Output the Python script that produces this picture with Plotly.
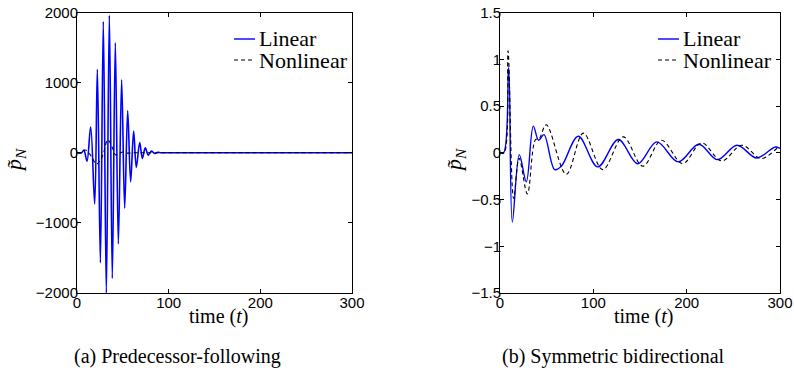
import plotly.graph_objects as go

# ---------------- data (extrema) ----------------
# (a) Predecessor-following
a_lin_t = [0, 5, 7.5, 10.9, 14.9, 19.3, 22.2, 25.5, 28.7, 32.0, 35.3, 38.5, 41.8, 45.1,
           48.7, 52.0, 55.3, 58.5, 61.8, 64.7, 68.4, 71.3, 74.5, 77.8, 81.1, 84.7, 88, 92, 100, 300]
a_lin_v = [0, 0, 40, -120, 370, -730, 1190, -1570, 1870, -2000, 1960, -1790, 1570, -1300,
           1040, -790, 600, -415, 310, -210, 145, -80, 70, -35, 25, -10, 5, 0, 0, 0]
a_non_t = [0, 5, 9, 14, 21.5, 28, 33.5, 39, 42, 46, 50, 55, 60, 70, 300]
a_non_v = [0, 0, 40, -20, -160, -40, 185, 60, -30, -10, 10, -5, 0, 0, 0]

# (b) Symmetric bidirectional
b_lin_t = [0, 4, 9.3, 13.2, 20.7, 28.2, 35.7, 41.4, 47.1, 58.6, 65.7, 83.9, 104.7, 126.8,
           147.5, 168, 191, 213, 233, 254, 275, 295, 300]
b_lin_v = [0, 0, 0.91, -0.74, -0.02, -0.31, 0.285, 0.133, 0.194, -0.18, -0.145, 0.176, -0.151,
           0.141, -0.117, 0.116, -0.098, 0.091, -0.074, 0.08, -0.056, 0.062, 0.045]
b_non_t = [0, 4.5, 8.6, 14.6, 20.5, 29.3, 38, 42, 49.6, 71, 89.3, 110, 132, 153, 173,
           195.7, 216, 237.5, 259, 280, 299, 300]
b_non_v = [0, 0, 1.09, -0.49, -0.06, -0.44, 0.14, 0.15, 0.30, -0.23, 0.21, -0.18, 0.17, -0.144,
           0.133, -0.115, 0.105, -0.087, 0.08, -0.062, 0.06, 0.058]

x_ticks = [0, 100, 200, 300]
x_tick_text = ["0", "100", "200", "300"]
a_y_ticks = [-2000, -1000, 0, 1000, 2000]
a_y_tick_text = ["\u22122000", "\u22121000", "0", "1000", "2000"]
b_y_ticks = [-1.5, -1, -0.5, 0, 0.5, 1, 1.5]
b_y_tick_text = ["\u22121.5", "\u22121", "\u22120.5", "0", "0.5", "1", "1.5"]

series_names = ["Linear", "Nonlinear"]
captions = ["(a) Predecessor-following", "(b) Symmetric bidirectional"]
x_title = "time (<i>t</i>)"
y_title = "<i>p\u0303</i><sub><i>N</i></sub>"

# ---------------- layout constants ----------------
W, H = 794, 373
SERIF = "Liberation Serif, Times New Roman, serif"
SANS = "Liberation Sans, Arial, sans-serif"
BLUE = "#0000ff"
DASH = "4px,3px"

def px(x):
    return x / W

def py(y):
    return (H - y) / H

fig = go.Figure()

fig.add_trace(go.Scatter(x=a_lin_t, y=a_lin_v, mode="lines", name=series_names[0],
                         line=dict(color=BLUE, width=1.6, shape="spline", smoothing=1),
                         xaxis="x", yaxis="y", showlegend=False))
fig.add_trace(go.Scatter(x=a_non_t, y=a_non_v, mode="lines", name=series_names[1],
                         line=dict(color="black", width=1.1, dash=DASH, shape="spline", smoothing=1),
                         xaxis="x", yaxis="y", showlegend=False))
fig.add_trace(go.Scatter(x=b_lin_t, y=b_lin_v, mode="lines", name=series_names[0],
                         line=dict(color=BLUE, width=1.4, shape="spline", smoothing=1),
                         xaxis="x2", yaxis="y2", showlegend=False))
fig.add_trace(go.Scatter(x=b_non_t, y=b_non_v, mode="lines", name=series_names[1],
                         line=dict(color="black", width=1.1, dash=DASH, shape="spline", smoothing=1),
                         xaxis="x2", yaxis="y2", showlegend=False))

axis_common = dict(showgrid=False, zeroline=False, showline=True, linecolor="black", linewidth=1,
                   mirror="ticks", ticks="inside", ticklen=4, tickcolor="black", tickwidth=1,
                   tickfont=dict(family=SANS, size=15, color="black"))

ydom = [py(293), py(12.5)]
fig.update_layout(
    width=W, height=H,
    margin=dict(l=0, r=0, t=0, b=0, autoexpand=False),
    paper_bgcolor="white", plot_bgcolor="white",
    showlegend=False,
    xaxis=dict(domain=[px(77), px(352)], range=[0, 300], tickvals=x_ticks, ticktext=x_tick_text,
               anchor="y", ticklabelstandoff=-4, **axis_common),
    yaxis=dict(domain=ydom, range=[-2000, 2000], tickvals=a_y_ticks, ticktext=a_y_tick_text,
               anchor="x", ticklabelstandoff=-5, **axis_common),
    xaxis2=dict(domain=[px(500), px(780)], range=[0, 300], tickvals=x_ticks, ticktext=x_tick_text,
                anchor="y2", ticklabelstandoff=-4, **axis_common),
    yaxis2=dict(domain=ydom, range=[-1.5, 1.5], tickvals=b_y_ticks, ticktext=b_y_tick_text,
                anchor="x2", ticklabelstandoff=-5, **axis_common),
)

ann = []
shapes = []
panels = [
    # x-title centre, y-label x, caption centre, caption, legend key start, key end, legend text x
    (219, 15, 177, captions[0], 234, 255, 257),
    (643, 455, 613, captions[1], 658, 679, 681),
]
legend_rows = [(39, BLUE, "solid", 1.4), (60, "black", DASH, 1.1)]
for cx, ylab_x, cap_x, cap, k0, k1, tx in panels:
    ann.append(dict(text=x_title, x=px(cx), y=py(316), xref="paper", yref="paper",
                    showarrow=False, xanchor="center", yanchor="middle",
                    font=dict(family=SERIF, size=20, color="black")))
    ann.append(dict(text=y_title, x=px(ylab_x), y=py(160), xref="paper", yref="paper",
                    showarrow=False, xanchor="center", yanchor="middle", textangle=-90,
                    font=dict(family=SERIF, size=22, color="black")))
    ann.append(dict(text=cap, x=px(cap_x), y=py(356), xref="paper", yref="paper",
                    showarrow=False, xanchor="center", yanchor="middle",
                    font=dict(family=SERIF, size=20, color="black")))
    # legend (keys + labels)
    for (ry, col, dash, lw), name in zip(legend_rows, series_names):
        shapes.append(dict(type="line", xref="paper", yref="paper",
                           x0=px(k0), x1=px(k1), y0=py(ry), y1=py(ry),
                           line=dict(color=col, width=lw, dash=dash)))
        ann.append(dict(text=name, x=px(tx), y=py(ry), xref="paper", yref="paper",
                        showarrow=False, xanchor="left", yanchor="middle",
                        font=dict(family=SERIF, size=22, color="black")))
fig.update_layout(annotations=ann, shapes=shapes)

fig.write_html("out.html", config={"displayModeBar": False},
               post_script="document.body.style.margin='0px';document.body.style.overflow='hidden';")
